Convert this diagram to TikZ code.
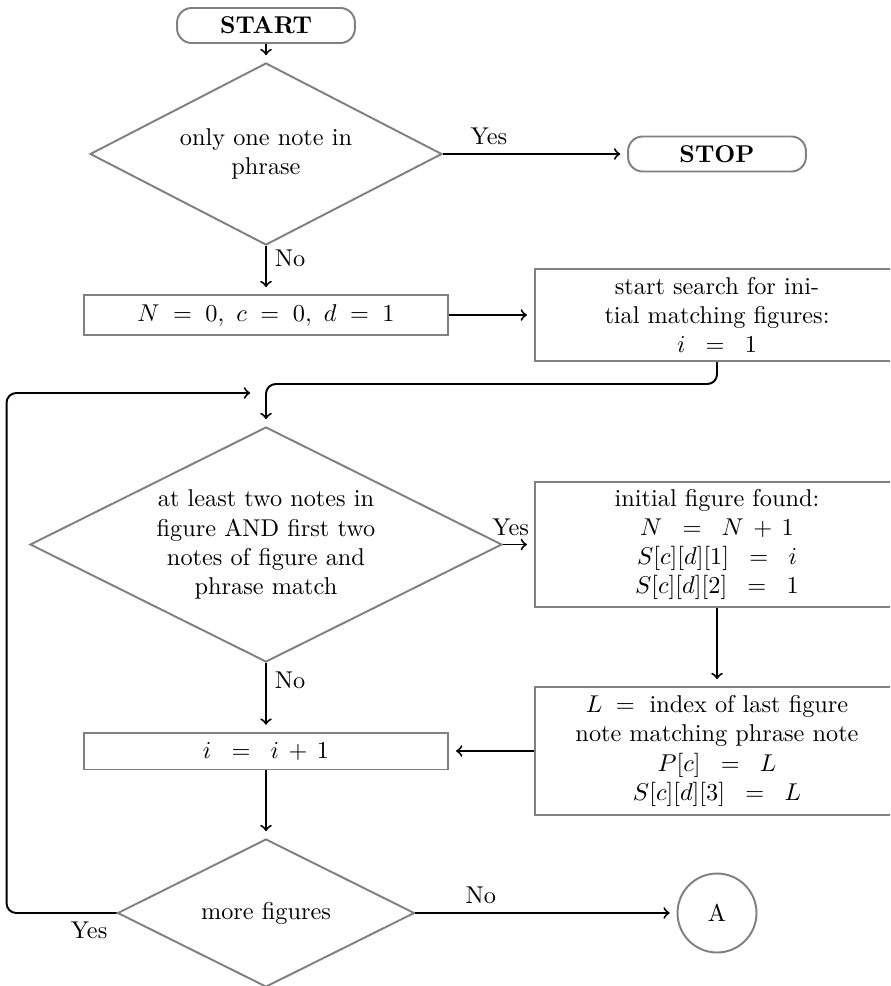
\documentclass[tikz,border=0pt]{standalone}
\usetikzlibrary{shapes.geometric}
\begin{document}
\begin{tikzpicture}[x=0.4115pt,y=-0.4115pt,
  base/.style={draw=gray, line width=0.8pt, fill=white, inner sep=0pt, align=center},
  termbox/.style={base, rectangle, rounded corners=6pt, minimum width=73.2pt, minimum height=14.4pt, font=\bfseries},
  procbox/.style={base, rectangle, minimum width=150pt},
  decision/.style={base, diamond},
  joint/.style={base, circle, minimum size=32.5pt},
  flow/.style={->, line width=0.8pt, shorten >=2.8pt},
  looped/.style={flow, rounded corners=4pt}
]
\useasboundingbox (0,0) rectangle (890,986);
\clip (0,0) rectangle (890,986);

% left column
\node[termbox] (start) at (266,25.5) {START};
\node[decision, aspect=1.934, minimum width=144.8pt, minimum height=74.9pt] (d1) at (266,154) {only one note in\\phrase};
\node[procbox, minimum height=16.5pt] (box1) at (266,315) {$N\;=\;0,\ c\;=\;0,\ d\;=\;1$};
\node[decision, aspect=2.0, minimum width=194.2pt, minimum height=96.7pt] (d2) at (266,544.5)
  {at least two notes in\\figure AND first two\\notes of figure and\\phrase match};
\node[procbox, minimum height=15.2pt] (box5) at (266,751) {$i\;\;=\;\;i\,+\,1$};
\node[decision, aspect=2.0, minimum width=122.2pt, minimum height=60.9pt] (d3) at (266,913) {more figures};

% right column
\node[termbox] (stop) at (717,154) {STOP};
\node[procbox, minimum height=37.9pt] (box2) at (717,315)
  {start search for ini-\\tial matching figures:\\$i\;\;=\;\;1$};
\node[procbox, minimum height=51.4pt] (box3) at (717,544.5)
  {initial figure found:\\$N\;\;=\;\;N\,+\,1$\\$S[c][d][1]\;\;=\;\;i$\\$S[c][d][2]\;\;=\;\;1$};
\node[procbox, minimum height=52.7pt] (box4) at (717,751)
  {$L\;=\;$ index of last figure\\note matching phrase note\\$P[c]\;\;=\;\;L$\\$S[c][d][3]\;\;=\;\;L$};
\node[joint] (A) at (717,913) {A};

\coordinate (loopin) at (257,393);

% connectors
\draw[flow] (start) -- (d1);
\draw[flow] (d1) -- node[above, pos=0.25, inner sep=3.3pt] {Yes} (stop);
\draw[flow] (d1) -- node[right, pos=0.25, inner sep=3.3pt] {No} (box1);
\draw[flow] (box1) -- (box2);
\draw[looped] (box2.south) -- ++(0,22) -| (d2.north);
\draw[flow] (d2.east) -- node[above, pos=0.25, inner sep=3.3pt] {Yes} (box3.west);
\draw[flow] (d2.south) -- node[right, pos=0.25, inner sep=3.3pt] {No} (box5.north);
\draw[flow] (box3) -- (box4);
\draw[flow] (box4) -- (box5);
\draw[flow] (box5) -- (d3);
\draw[flow] (d3) -- node[above, pos=0.25, inner sep=3.3pt] {No} (A);
\draw[looped] (d3.west) -- node[below, pos=0.25, inner sep=3.3pt] {Yes} ++(-110,0) |- (loopin);
\end{tikzpicture}
\end{document}
